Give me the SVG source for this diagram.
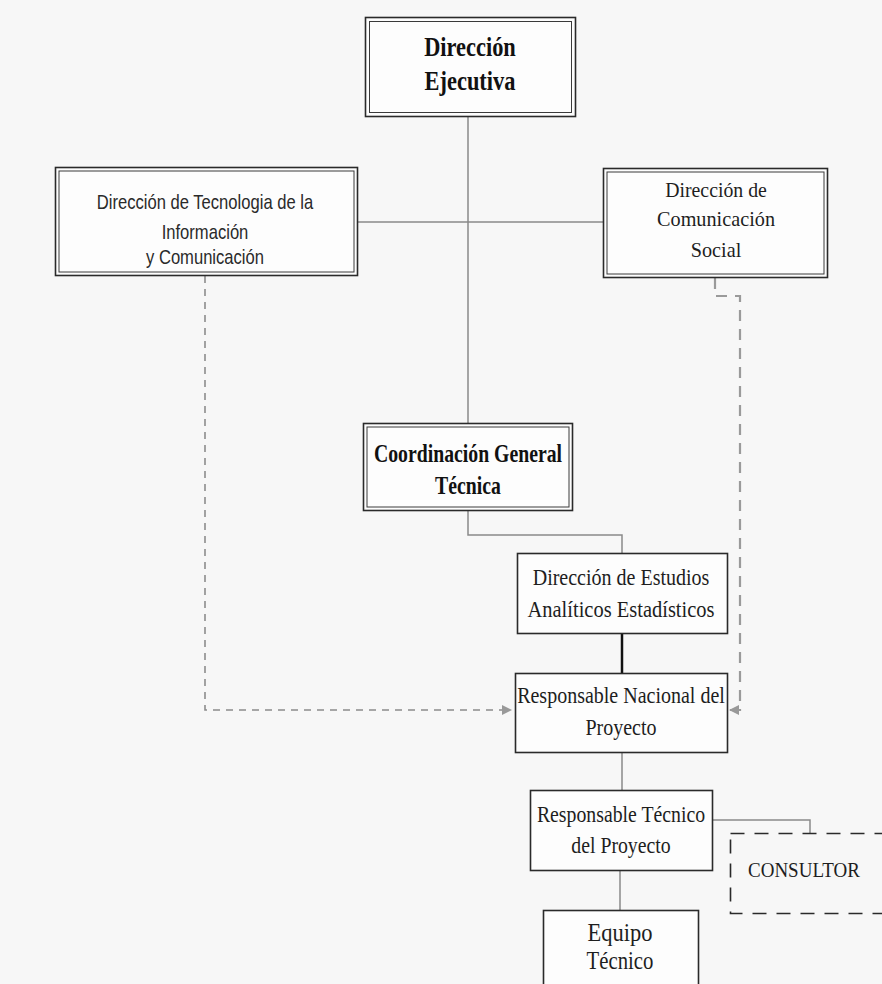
<svg xmlns="http://www.w3.org/2000/svg" width="882" height="984" viewBox="0 0 882 984">
<defs>
<style>
.bg{fill:#f7f7f7}
.box{fill:#fdfdfd;stroke:#2a2a2a;stroke-width:1.6}
.inner{fill:none;stroke:#3a3a3a;stroke-width:1}
.serif{font-family:"Liberation Serif","Times New Roman",serif;fill:#1e1e1e;text-anchor:middle}
.bold{font-weight:bold;fill:#111}
.sans{font-family:"Liberation Sans",Arial,sans-serif;fill:#2a2a2a;text-anchor:middle}
.ln{fill:none;stroke:#8a8a8a;stroke-width:1.5}
.dash{fill:none;stroke:#8c8c8c;stroke-width:1.6;stroke-dasharray:7 6}
.dash2{fill:none;stroke:#9a9a9a;stroke-width:2.2;stroke-dasharray:11 8}
</style>
<marker id="arr" viewBox="0 0 10 10" refX="10" refY="5" markerWidth="10" markerHeight="10" markerUnits="userSpaceOnUse" orient="auto">
<path d="M0,0 L10,5 L0,10 z" fill="#999"/>
</marker>
</defs>
<rect class="bg" x="0" y="0" width="882" height="984"/>

<g id="connectors">
<path class="ln" d="M468,116 V423"/>
<path class="ln" d="M357,222 H603"/>
<path class="ln" d="M468,510 V535 H622 V553" stroke="#777"/>
<path d="M622,633 V673" fill="none" stroke="#111" stroke-width="2.5"/>
<path class="ln" d="M622,752 V790" stroke-width="1.2"/>
<path class="ln" d="M712,820 H810 V833" stroke="#9a9a9a" stroke-width="1.3"/>
<path class="ln" d="M620,870 V910" stroke-width="1.2"/>
<path class="dash" d="M205,276 V710 H512" marker-end="url(#arr)"/>
<path class="dash2" d="M715,278 V296 H740 V710 H729" marker-end="url(#arr)"/>
</g>

<g id="direccion-ejecutiva">
<rect class="box" x="365.5" y="17.5" width="210" height="99" stroke-width="2"/>
<rect class="inner" x="369.5" y="21.5" width="202" height="91"/>
<text class="serif bold" font-size="28" transform="translate(470,56) scale(0.8,1)">Dirección</text>
<text class="serif bold" font-size="28" transform="translate(470,90) scale(0.8,1)">Ejecutiva</text>
</g>

<g id="direccion-tecnologia">
<rect class="box" x="55.5" y="167.5" width="302" height="108" stroke-width="2"/>
<rect class="inner" x="59" y="171" width="295" height="101"/>
<text class="sans" font-size="20" transform="translate(205,209) scale(0.83,1)">Dirección de Tecnologia de la</text>
<text class="sans" font-size="20" transform="translate(205,239) scale(0.83,1)">Información</text>
<text class="sans" font-size="20" transform="translate(205,264) scale(0.83,1)">y Comunicación</text>
</g>

<g id="direccion-comunicacion">
<rect class="box" x="603.5" y="168.5" width="224" height="109" stroke-width="2"/>
<rect class="inner" x="607" y="172" width="217" height="102"/>
<text class="serif" font-size="22" transform="translate(716,197) scale(0.9,1)">Dirección de</text>
<text class="serif" font-size="22" transform="translate(716,226) scale(0.92,1)">Comunicación</text>
<text class="serif" font-size="22" transform="translate(716,257) scale(0.92,1)">Social</text>
</g>

<g id="coordinacion-general">
<rect class="box" x="363.5" y="423.5" width="209" height="87" stroke-width="2"/>
<rect class="inner" x="367" y="427" width="202" height="80"/>
<text class="serif bold" font-size="25" transform="translate(468,462) scale(0.79,1)">Coordinación General</text>
<text class="serif bold" font-size="25" transform="translate(468,494) scale(0.79,1)">Técnica</text>
</g>

<g id="direccion-estudios">
<rect class="box" x="517.5" y="553.5" width="210" height="80"/>
<text class="serif" font-size="23" transform="translate(621,585) scale(0.87,1)">Dirección de Estudios</text>
<text class="serif" font-size="23" transform="translate(621,617) scale(0.89,1)">Analíticos Estadísticos</text>
</g>

<g id="responsable-nacional">
<rect class="box" x="515.5" y="673.5" width="212" height="79"/>
<text class="serif" font-size="23" transform="translate(621,703) scale(0.87,1)">Responsable Nacional del</text>
<text class="serif" font-size="23" transform="translate(621,735) scale(0.87,1)">Proyecto</text>
</g>

<g id="responsable-tecnico">
<rect class="box" x="530.5" y="790.5" width="182" height="80"/>
<text class="serif" font-size="23" transform="translate(621,822) scale(0.86,1)">Responsable Técnico</text>
<text class="serif" font-size="23" transform="translate(621,853) scale(0.86,1)">del Proyecto</text>
</g>

<g id="consultor">
<rect x="730.5" y="833.5" width="170" height="80" fill="none" stroke="#2a2a2a" stroke-width="1.6" stroke-dasharray="14 10"/>
<text class="serif" font-size="20" transform="translate(748,877) scale(0.95,1)" style="text-anchor:start">CONSULTOR</text>
</g>

<g id="equipo-tecnico">
<rect class="box" x="543.5" y="910.5" width="155" height="90"/>
<text class="serif" font-size="25" transform="translate(620,941) scale(0.9,1)">Equipo</text>
<text class="serif" font-size="25" transform="translate(620,969) scale(0.83,1)">Técnico</text>
</g>
</svg>
